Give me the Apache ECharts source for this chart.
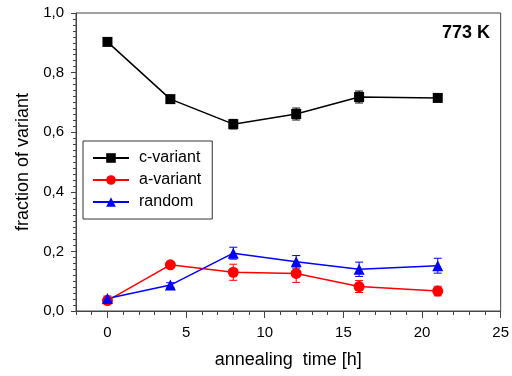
<!DOCTYPE html>
<html>
<head>
<meta charset="utf-8">
<script src="https://cdn.jsdelivr.net/npm/echarts@6/dist/echarts.min.js"></script>
<style>
  html, body { margin: 0; padding: 0; background: #fff; }
  #chart { width: 512px; height: 376px; }
</style>
</head>
<body>
<div id="chart"></div>
<script>
// annealing time [h]
var times = [0, 4, 8, 12, 16, 21];
// fraction of variant
var cVariant = [0.903, 0.711, 0.627, 0.661, 0.718, 0.715];
var cErr     = [0.008, 0.012, 0.016, 0.020, 0.020, 0.010];
var aVariant = [0.035, 0.155, 0.130, 0.126, 0.082, 0.067];
var aErr     = [0.006, 0.008, 0.027, 0.030, 0.020, 0.016];
var random   = [0.042, 0.087, 0.194, 0.165, 0.140, 0.152];
var rErr     = [0.008, 0.008, 0.020, 0.021, 0.024, 0.025];
var xMajorTicks = [0, 5, 10, 15, 20, 25];

var FONT = 'Liberation Sans, Arial, sans-serif';

function pairs(vals, errs) {
    var out = [];
    for (var i = 0; i < times.length; i++) {
        out.push([times[i], vals[i], errs ? errs[i] : 0]);
    }
    return out;
}

function errorBar(color) {
    return function (params, api) {
        var x = api.value(0), y = api.value(1), e = api.value(2);
        if (!e) return null;
        var top = api.coord([x, y + e]);
        var bot = api.coord([x, y - e]);
        var w = 4;
        var st = { stroke: color, lineWidth: 1 };
        return {
            type: 'group',
            children: [
                { type: 'line', shape: { x1: top[0], y1: top[1], x2: bot[0], y2: bot[1] }, style: st },
                { type: 'line', shape: { x1: top[0] - w, y1: top[1], x2: top[0] + w, y2: top[1] }, style: st },
                { type: 'line', shape: { x1: bot[0] - w, y1: bot[1], x2: bot[0] + w, y2: bot[1] }, style: st }
            ]
        };
    };
}

function lineSeries(name, vals, color, symbol, size) {
    return {
        name: name,
        type: 'line',
        data: pairs(vals),
        symbol: symbol,
        symbolSize: size,
        itemStyle: { color: color },
        lineStyle: { color: color, width: 1.5 },
        emphasis: { disabled: true },
        z: 3
    };
}

function errSeries(name, vals, errs, color) {
    return {
        name: name,
        type: 'custom',
        data: pairs(vals, errs),
        renderItem: errorBar(color),
        encode: { x: 0, y: 1 },
        z: 2
    };
}

var myChart = echarts.init(document.getElementById('chart'));
var option = {
    animation: false,
    textStyle: { fontFamily: FONT },
    grid: {
        left: 76, right: 11, top: 13, bottom: 65,
        show: true, borderColor: '#444', borderWidth: 1, backgroundColor: 'transparent'
    },
    graphic: [{
        type: 'text',
        x: 490, y: 33,
        style: {
            text: '773 K', fill: '#000',
            font: 'bold 18px ' + FONT,
            textAlign: 'right', textVerticalAlign: 'middle'
        }
    }],
    legend: {
        data: ['c-variant', 'a-variant', 'random'],
        left: 83, top: 141,
        orient: 'vertical',
        itemWidth: 36, itemHeight: 12,
        itemGap: 6,
        padding: [9, 11, 9, 9],
        borderColor: '#333', borderWidth: 1,
        textStyle: { fontSize: 16, color: '#000', fontFamily: FONT, padding: [0, 0, 0, 5] }
    },
    xAxis: [
        {
            type: 'value',
            min: -2, max: 25, interval: 1,
            name: 'annealing  time [h]',
            nameLocation: 'middle',
            nameGap: 40,
            nameTextStyle: { fontSize: 18, color: '#000', fontFamily: FONT },
            axisLine: { show: true, onZero: false, lineStyle: { color: '#444' } },
            axisTick: { show: true, inside: false, length: 4, lineStyle: { color: '#444' } },
            axisLabel: {
                fontSize: 15, color: '#000', margin: 14, fontFamily: FONT,
                formatter: function (v) { return v % 5 === 0 ? String(v) : ''; }
            },
            splitLine: { show: false }
        },
        {
            type: 'value',
            position: 'bottom',
            min: -2, max: 25, interval: 1,
            axisLine: { show: false },
            axisTick: { show: true, length: 7, customValues: xMajorTicks, lineStyle: { color: '#444' } },
            axisLabel: { show: false },
            splitLine: { show: false }
        }
    ],
    yAxis: {
        type: 'value',
        min: 0, max: 1, interval: 0.2,
        name: 'fraction of variant',
        nameLocation: 'middle',
        nameGap: 44,
        nameTextStyle: { fontSize: 18, color: '#000', fontFamily: FONT },
        axisLine: { show: true, onZero: false, lineStyle: { color: '#444' } },
        axisTick: { show: true, inside: false, length: 5, lineStyle: { color: '#444' } },
        minorTick: { show: true, splitNumber: 10, length: 3, lineStyle: { color: '#444' } },
        axisLabel: {
            fontSize: 15, color: '#000', margin: 12, fontFamily: FONT,
            formatter: function (v) { return v.toFixed(1).replace('.', ','); }
        },
        splitLine: { show: false },
        minorSplitLine: { show: false }
    },
    series: [
        errSeries('c-err', cVariant, cErr, '#000'),
        errSeries('a-err', aVariant, aErr, '#ff0000'),
        errSeries('r-err', random, rErr, '#0000ff'),
        lineSeries('c-variant', cVariant, '#000', 'rect', 10),
        lineSeries('a-variant', aVariant, '#ff0000', 'circle', 11),
        lineSeries('random', random, '#0000ff', 'triangle', 11)
    ]
};
myChart.setOption(option);
</script>
</body>
</html>
